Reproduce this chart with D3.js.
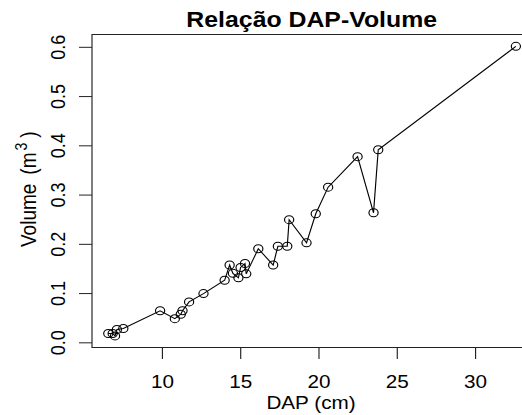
<!DOCTYPE html>
<html>
<head>
<meta charset="utf-8">
<script src="https://cdn.jsdelivr.net/npm/d3@7"></script>
<style>
  html, body { margin: 0; padding: 0; background: #fff; }
  svg { display: block; }
  text { font-family: "Liberation Sans", Arial, sans-serif; fill: #000; }
</style>
</head>
<body>
<script>
// DAP (cm) and volume (m3), in DAP order
const dap = [6.58, 6.86, 7.01, 7.13, 7.54, 9.89, 10.83, 11.21, 11.32, 11.74,
             12.66, 14.01, 14.33, 14.54, 14.89, 15.03, 15.31, 15.39, 16.16, 17.11,
             17.41, 18.01, 18.13, 19.24, 19.83, 20.62, 22.50, 23.52, 23.82, 32.61];
const volume = [0.018, 0.018, 0.013, 0.026, 0.028, 0.064, 0.048, 0.057, 0.064, 0.082,
                0.099, 0.126, 0.157, 0.140, 0.131, 0.152, 0.160, 0.139, 0.190, 0.157,
                0.195, 0.195, 0.249, 0.202, 0.261, 0.315, 0.377, 0.263, 0.391, 0.601];
const xTicks = [10, 15, 20, 25, 30];
const yTicks = [0.0, 0.1, 0.2, 0.3, 0.4, 0.5, 0.6];

const width = 522, height = 415;
// the reference is a little stretched sideways, so draw in a narrower box and stretch it
const sx = 1.15;
const vw = width / sx;

const svg = d3.select("body").append("svg")
    .attr("width", width)
    .attr("height", height)
    .attr("viewBox", `0 0 ${vw} ${height}`)
    .attr("preserveAspectRatio", "none");

const pLeft = 92 / sx, pRight = 532 / sx, pTop = 34.5, pBottom = 347.5;

const x = d3.scaleLinear().domain([5.54, 33.64]).range([pLeft, pRight]);
const y = d3.scaleLinear().domain([-0.0105, 0.625]).range([pBottom, pTop]);

const data = dap.map((d, i) => ({x: d, y: volume[i]}));

// box
svg.append("rect")
    .attr("x", pLeft).attr("y", pTop)
    .attr("width", pRight - pLeft).attr("height", pBottom - pTop)
    .attr("fill", "none").attr("stroke", "#222").attr("stroke-width", 1);

// x axis
const gx = svg.append("g")
    .attr("transform", `translate(0,${pBottom})`)
    .call(d3.axisBottom(x).tickValues(xTicks).tickSize(11.5).tickPadding(16).tickSizeOuter(0));
gx.select(".domain").remove();
gx.selectAll("line").attr("stroke", "#222");
gx.selectAll("text").attr("font-size", 18).attr("fill", "#000");

// y axis, labels turned like R does
const gy = svg.append("g")
    .attr("transform", `translate(${pLeft},0)`)
    .call(d3.axisLeft(y).tickValues(yTicks).tickFormat(d3.format(".1f")).tickSize(11.3).tickSizeOuter(0));
gy.select(".domain").remove();
gy.selectAll("line").attr("stroke", "#222");
gy.selectAll("text")
    .attr("font-size", 18).attr("fill", "#000")
    .attr("transform", "rotate(-90)")
    .attr("x", 0).attr("y", -23.5).attr("dy", 0)
    .attr("text-anchor", "middle");

// line through the points
svg.append("path")
    .datum(data)
    .attr("fill", "none")
    .attr("stroke", "#000")
    .attr("stroke-width", 1)
    .attr("d", d3.line().x(d => x(d.x)).y(d => y(d.y)));

svg.selectAll("circle")
    .data(data)
    .enter().append("circle")
    .attr("cx", d => x(d.x))
    .attr("cy", d => y(d.y))
    .attr("r", 4)
    .attr("fill", "none")
    .attr("stroke", "#000")
    .attr("stroke-width", 1);

// titles
svg.append("text")
    .attr("x", 311.7 / sx)
    .attr("y", 27)
    .attr("text-anchor", "middle")
    .attr("font-size", 21.6)
    .attr("font-weight", "bold")
    .text("Relação DAP-Volume");

svg.append("text")
    .attr("x", 311 / sx)
    .attr("y", 409)
    .attr("text-anchor", "middle")
    .attr("font-size", 18)
    .text("DAP (cm)");

// y title, spaced out a bit like R's plotmath
const yl = svg.append("text")
    .attr("transform", `translate(${36 / sx},247) rotate(-90)`)
    .attr("text-anchor", "start")
    .attr("font-size", 19);
yl.append("tspan").text("Volume");
yl.append("tspan").attr("dx", 9).text("(m");
yl.append("tspan").attr("dx", 2).attr("dy", -8).attr("font-size", 14).text("3");
yl.append("tspan").attr("dx", 5).attr("dy", 8).text(")");
</script>
</body>
</html>
